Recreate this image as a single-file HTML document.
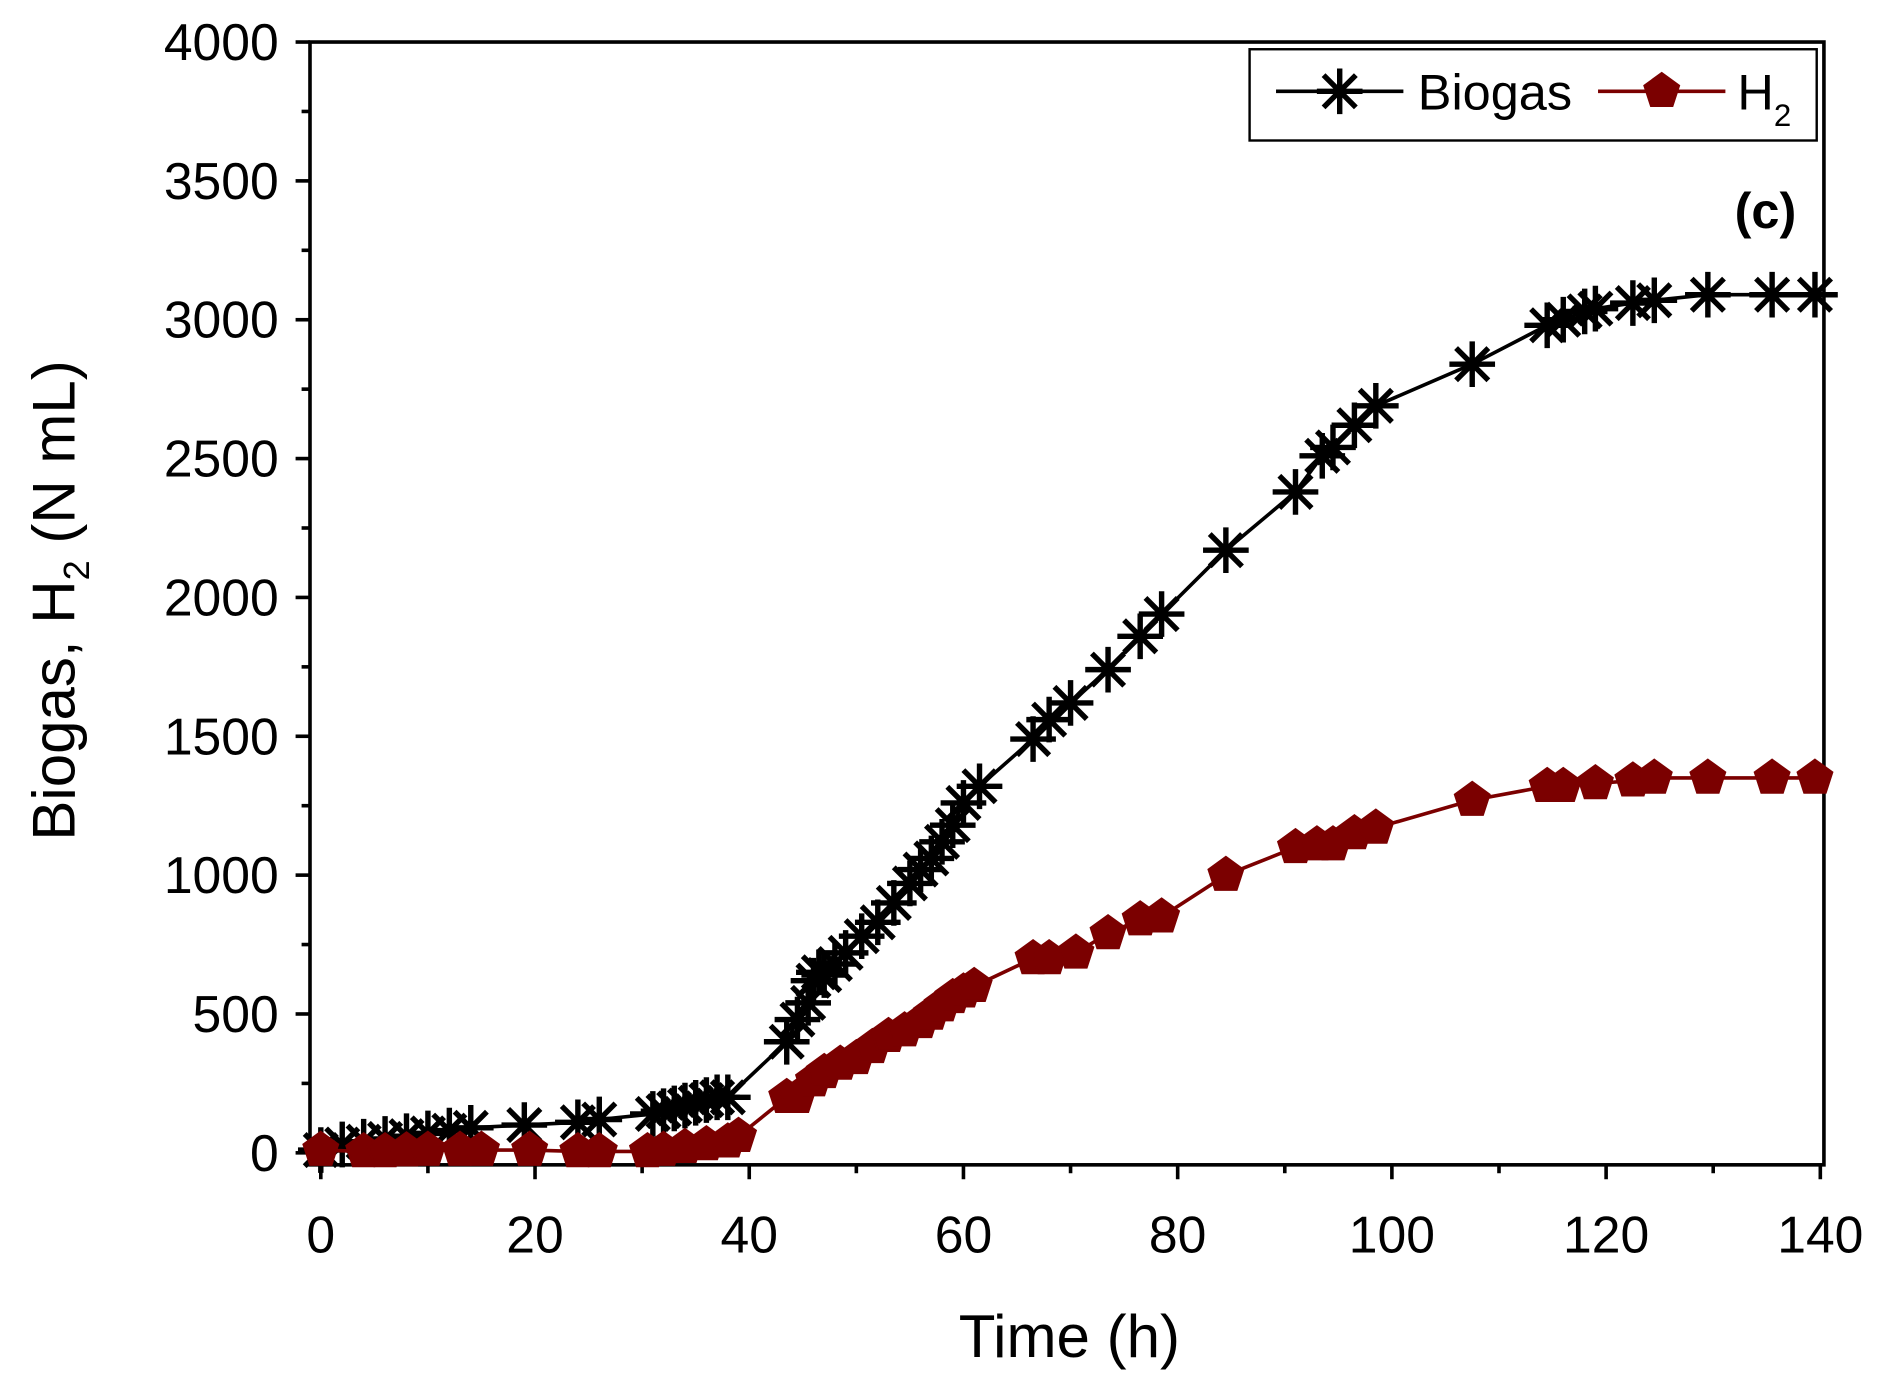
<!DOCTYPE html><html><head><style>body{margin:0;background:#fff}svg{display:block}</style></head><body>
<svg id="s" width="1884" height="1393" viewBox="0 0 1568 1160" preserveAspectRatio="none" xmlns="http://www.w3.org/2000/svg" font-family="Liberation Sans, sans-serif">
<rect x="258" y="35" width="1260" height="935" fill="none" stroke="#000" stroke-width="3"/>
<g id="ax"></g><g id="bl"></g><g id="hl"></g>
<text x="1495" y="190" font-size="42" font-weight="bold" text-anchor="end">(c)</text>
<rect x="1040" y="41" width="472" height="76" fill="#fff" stroke="#000" stroke-width="2"/>
<line x1="1062" y1="76" x2="1168" y2="76" stroke="#000" stroke-width="3"/>
<text x="1180" y="91" font-size="42">Biogas</text>
<line x1="1330" y1="76" x2="1436" y2="76" stroke="#7b0000" stroke-width="3"/>
<text x="1446" y="91" font-size="42">H<tspan font-size="26" dy="14">2</tspan></text>
<g id="lg"></g>
<text x="890" y="1130" font-size="50" text-anchor="middle">Time (h)</text>
<text transform="translate(62,500) rotate(-90)" font-size="50" text-anchor="middle">Biogas, H<tspan font-size="30" dy="12">2</tspan><tspan dy="-12"> (N mL)</tspan></text>
</svg>
<script>
const NS="http://www.w3.org/2000/svg";
function el(p,t,a,txt){const e=document.createElementNS(NS,t);for(const k in a)e.setAttribute(k,a[k]);if(txt!==undefined)e.textContent=txt;document.getElementById(p).appendChild(e);return e;}
const px=t=>267+t*1248/140, py=v=>960-v*0.23125;
for(let t=0;t<=140;t+=10){const M=t%20==0;el('ax','line',{x1:px(t),x2:px(t),y1:970,y2:M?982:977,stroke:'#000','stroke-width':3});if(M)el('ax','text',{x:px(t),y:1043,'font-size':43,'text-anchor':'middle'},t);}
for(let v=0;v<=4000;v+=250){const M=v%500==0;el('ax','line',{x1:M?246:251,x2:258,y1:py(v),y2:py(v),stroke:'#000','stroke-width':3});if(M)el('ax','text',{x:232,y:py(v)+15,'font-size':43,'text-anchor':'end'},v);}
const B=[[0,10],[2,30],[4,40],[6,50],[8,60],[10,70],[12,80],[14,90],[19,100],[24,110],[26,120],[31,140],[32,150],[33,160],[34,170],[35,180],[36,190],[37,200],[38,200],[43.5,400],[44.5,480],[45.5,540],[46,620],[46.5,650],[47,640],[48,680],[49,720],[50.5,780],[52,830],[53.5,900],[55,970],[56,1020],[57,1060],[58,1120],[59,1180],[60,1260],[61.5,1320],[66.5,1490],[68,1560],[70,1620],[73.5,1740],[76.5,1860],[78.5,1940],[84.5,2170],[91,2380],[93.5,2510],[94.5,2540],[96.5,2620],[98.5,2690],[107.5,2840],[114.5,2980],[116,3000],[118,3030],[119,3040],[122.5,3060],[124.5,3070],[129.5,3090],[135.5,3090],[139.5,3090]];
const H=[[0,10],[4,5],[6,5],[8,8],[10,10],[13,10],[15,10],[19.5,10],[24,5],[26,5],[30.5,5],[32,10],[34,20],[36,30],[38,40],[39,60],[43.5,200],[44.5,200],[46,260],[47,290],[48.5,320],[50,340],[51.5,380],[53,420],[54.5,440],[56,470],[57,500],[58,530],[59,560],[60,580],[61,600],[66.5,700],[68,700],[70.5,720],[73.5,790],[76.5,840],[78.5,850],[84.5,1000],[91,1100],[93,1110],[94.5,1110],[96.5,1150],[98.5,1170],[107.5,1270],[114.5,1320],[116,1320],[119,1330],[122.5,1340],[124.5,1350],[129.5,1350],[135.5,1350],[139.5,1350]];
el('bl','polyline',{points:B.map(d=>px(d[0])+','+py(d[1])).join(' '),fill:'none',stroke:'#000','stroke-width':3});
el('hl','polyline',{points:H.map(d=>px(d[0])+','+py(d[1])).join(' '),fill:'none',stroke:'#7b0000','stroke-width':3});
function star(g,x,y){const r=19;let d='';for(let i=0;i<4;i++){const a=i*Math.PI/4+Math.PI/2;d+=`M${x-r*Math.cos(a)},${y-r*Math.sin(a)}L${x+r*Math.cos(a)},${y+r*Math.sin(a)}`;}el(g,'path',{d:d,stroke:'#000','stroke-width':4.5,fill:'none'});}
function pent(g,x,y){const r=15;let p=[];for(let i=0;i<5;i++){const a=-Math.PI/2+i*2*Math.PI/5;p.push((x+r*Math.cos(a))+','+(y+r*Math.sin(a)));}el(g,'polygon',{points:p.join(' '),fill:'#7b0000',stroke:'#7b0000','stroke-width':2});}
B.forEach(d=>star('bl',px(d[0]),py(d[1])));
H.forEach(d=>pent('hl',px(d[0]),py(d[1])));
star('lg',1115,76);pent('lg',1383,76);
</script>
</body></html>
